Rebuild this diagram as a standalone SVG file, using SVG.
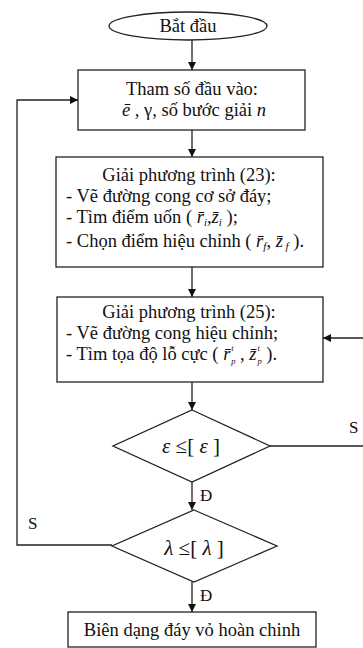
<svg xmlns="http://www.w3.org/2000/svg" width="363" height="648" viewBox="0 0 363 648" font-family="'Liberation Serif', 'DejaVu Serif', serif">
  <defs>
    <marker id="arrow" viewBox="0 0 10 10" refX="10" refY="5" markerWidth="8" markerHeight="8" markerUnits="userSpaceOnUse" orient="auto">
      <path d="M0,0 L10,5 L0,10 z" fill="#111"/>
    </marker>
    <style>
      .shape { fill: #fff; stroke: #222; stroke-width: 1.3; }
      .edge { fill: none; stroke: #222; stroke-width: 1.3; }
      text { font-size: 18.5px; fill: #111; }
      .c { text-anchor: middle; }
      .m { font-style: italic; }
      .lbl { font-size: 17px; }
      .sub { font-size: 11px; font-style: italic; }
      .tiny { font-size: 8.5px; font-style: italic; }
      .cond { font-size: 21px; }
    </style>
  </defs>
  <rect width="363" height="648" fill="#fff"/>

  <!-- connectors -->
  <g id="connectors">
    <line class="edge" x1="192" y1="40" x2="192" y2="70" marker-end="url(#arrow)"/>
    <line class="edge" x1="192" y1="130" x2="192" y2="157" marker-end="url(#arrow)"/>
    <line class="edge" x1="192" y1="267" x2="192" y2="297" marker-end="url(#arrow)"/>
    <line class="edge" x1="192" y1="382" x2="192" y2="410" marker-end="url(#arrow)"/>
    <line class="edge" x1="192" y1="482" x2="192" y2="510" marker-end="url(#arrow)"/>
    <line class="edge" x1="192" y1="582" x2="192" y2="612" marker-end="url(#arrow)"/>
    <!-- loop back to the input box -->
    <path class="edge" d="M112,545 H17 V100 H78" marker-end="url(#arrow)"/>
    <!-- loop back to equation (25) -->
    <path class="edge" d="M270,446 H370 V338 H323" marker-end="url(#arrow)"/>
    <text class="lbl" x="349" y="433">S</text>
    <text class="lbl" x="28" y="529">S</text>
    <text class="lbl" x="200" y="501">Đ</text>
    <text class="lbl" x="200" y="601">Đ</text>
  </g>

  <g id="start">
    <ellipse class="shape" cx="188" cy="26" rx="79" ry="14"/>
    <text class="c" x="188" y="32">Bắt đầu</text>
  </g>

  <g id="input">
    <rect class="shape" x="78" y="70" width="227" height="60"/>
    <text class="c" x="192" y="95">Tham số đầu vào:</text>
    <text class="c" x="194" y="116"><tspan class="m">ē</tspan> , γ, số bước giải <tspan class="m">n</tspan></text>
  </g>

  <g id="eq23">
    <rect class="shape" x="56" y="157" width="267" height="110"/>
    <text class="c" x="189" y="181">Giải phương trình (23):</text>
    <text x="66" y="202">- Vẽ đường cong cơ sở đáy;</text>
    <text x="66" y="223">- Tìm điểm uốn ( <tspan class="m">r̄</tspan><tspan class="sub" dy="3">i</tspan><tspan dy="-3">,</tspan><tspan class="m">z̄</tspan><tspan class="sub" dy="3">i</tspan><tspan dy="-3"> );</tspan></text>
    <text x="66" y="247">- Chọn điểm hiệu chỉnh ( <tspan class="m">r̄</tspan><tspan class="sub" dy="3">f</tspan><tspan dy="-3">, </tspan><tspan class="m">z̄</tspan><tspan class="sub" dy="3"> f</tspan><tspan dy="-3"> ).</tspan></text>
  </g>

  <g id="eq25">
    <rect class="shape" x="57" y="297" width="266" height="85"/>
    <text class="c" x="189" y="318">Giải phương trình (25):</text>
    <text x="66" y="339">- Vẽ đường cong hiệu chỉnh;</text>
    <text x="66" y="360">- Tìm tọa độ lỗ cực ( <tspan class="m">r̄</tspan><tspan class="tiny" dx="1" dy="-9">t</tspan><tspan class="tiny" dx="-2.5" dy="13">p</tspan><tspan dy="-4"> , </tspan><tspan class="m">z̄</tspan><tspan class="tiny" dx="1" dy="-9">t</tspan><tspan class="tiny" dx="-2.5" dy="13">p</tspan><tspan dy="-4"> ).</tspan></text>
  </g>

  <g id="check-eps">
    <polygon class="shape" points="192,410 270,446 192,482 113,446"/>
    <text class="c cond" x="191" y="453"><tspan class="m">ε</tspan> ≤[ <tspan class="m">ε</tspan> ]</text>
  </g>

  <g id="check-lambda">
    <polygon class="shape" points="194,510 277,546 194,582 112,546"/>
    <text class="c cond" x="194" y="555"><tspan class="m">λ</tspan> ≤[ <tspan class="m">λ</tspan> ]</text>
  </g>

  <g id="result">
    <rect class="shape" x="68" y="612" width="248" height="35"/>
    <text class="c" x="192" y="636">Biên dạng đáy vỏ hoàn chinh</text>
  </g>
</svg>
